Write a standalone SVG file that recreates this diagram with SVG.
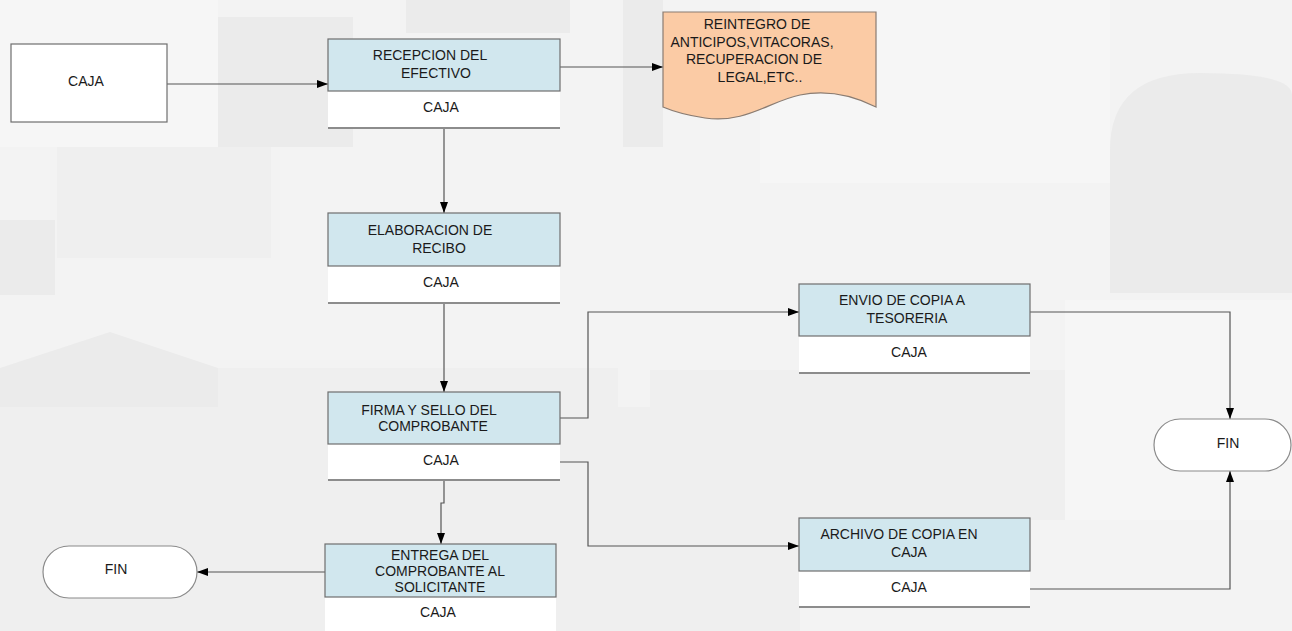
<svg xmlns="http://www.w3.org/2000/svg" width="1292" height="631" viewBox="0 0 1292 631">
  <defs>
    <marker id="arrow" markerUnits="userSpaceOnUse" markerWidth="11" markerHeight="8" refX="11" refY="4" orient="auto">
      <path d="M0,0 L11,4 L0,8 Z" fill="#000"/>
    </marker>
    <style>
      text { font-family: "Liberation Sans", Arial, sans-serif; font-size: 14px; fill: #1a1a1a; text-anchor: middle; }
      .head { fill: #d1e7ee; stroke: #6e6e6e; stroke-width: 1.2; }
      .lane { fill: #ffffff; }
      .rule { stroke: #8c8c8c; stroke-width: 2; }
      .plain { fill: #ffffff; stroke: #6e6e6e; stroke-width: 1.2; }
      .term { fill: #ffffff; stroke: #8a8a8a; stroke-width: 1.2; }
      .doc { fill: #fbcba5; stroke: #8a7c72; stroke-width: 1.2; }
      .conn { fill: none; stroke: #555; stroke-width: 1.2; }
      .bg1 { fill: #ebebeb; }
      .bg2 { fill: #efefef; }
      .bg3 { fill: #f6f6f6; }
    </style>
  </defs>

  <!-- backdrop -->
  <g id="backdrop">
    <rect x="0" y="0" width="1292" height="631" fill="#f3f3f3"/>
    <rect class="bg3" x="0" y="0" width="218" height="147"/>
    <rect class="bg1" x="218" y="17" width="135" height="130"/>
    <rect class="bg1" x="406" y="0" width="164" height="33"/>
    <rect class="bg1" x="623" y="0" width="40" height="147"/>
    <rect class="bg2" x="57" y="147" width="214" height="111"/>
    <rect class="bg1" x="0" y="220" width="55" height="75"/>
    <rect class="bg3" x="760" y="0" width="350" height="183"/>
    <path class="bg1" d="M1110,293 V150 Q1110,73 1200,73 Q1292,73 1292,95 V293 Z"/>
    <polygon class="bg1" points="0,368 110,332 218,368 218,407 0,407"/>
    <rect class="bg2" x="218" y="368" width="400" height="39"/>
    <rect class="bg2" x="0" y="407" width="800" height="224"/>
    <rect class="bg2" x="650" y="370" width="420" height="150"/>
    <rect class="bg3" x="1065" y="300" width="227" height="220"/>
  </g>

  <!-- connectors -->
  <g id="connectors">
    <path class="conn" d="M167,84 H328" marker-end="url(#arrow)"/>
    <path class="conn" d="M560,67 H663" marker-end="url(#arrow)"/>
    <path class="conn" d="M444,128 V213" marker-end="url(#arrow)"/>
    <path class="conn" d="M444,303 V392" marker-end="url(#arrow)"/>
    <path class="conn" d="M560,418 H588 V312 H799" marker-end="url(#arrow)"/>
    <path class="conn" d="M560,462 H588 V546 H799" marker-end="url(#arrow)"/>
    <path class="conn" d="M444,480 V503 H441 V544" marker-end="url(#arrow)"/>
    <path class="conn" d="M325,572 H197" marker-end="url(#arrow)"/>
    <path class="conn" d="M1030,312 H1230 V419" marker-end="url(#arrow)"/>
    <path class="conn" d="M1030,589 H1230 V471" marker-end="url(#arrow)"/>
  </g>

  <!-- start box -->
  <g id="caja-start">
    <rect class="plain" x="11" y="44" width="156" height="78"/>
    <text x="86" y="86">CAJA</text>
  </g>

  <!-- processes -->
  <g id="recepcion">
    <rect class="lane" x="328" y="91" width="232" height="37"/>
    <line class="rule" x1="328" y1="128" x2="560" y2="128"/>
    <rect class="head" x="328" y="39" width="232" height="52"/>
    <text x="430" y="60">RECEPCION DEL</text>
    <text x="436" y="78">EFECTIVO</text>
    <text x="441" y="112">CAJA</text>
  </g>

  <g id="reintegro">
    <path class="doc" d="M663,12 H876 V107 C850,94 825,90 800,95 C770,101 745,124 705,118 C685,115 670,110 663,107 Z"/>
    <text x="757" y="29">REINTEGRO DE</text>
    <text x="752" y="47">ANTICIPOS,VITACORAS,</text>
    <text x="754" y="64">RECUPERACION DE</text>
    <text x="760" y="82">LEGAL,ETC..</text>
  </g>

  <g id="elaboracion">
    <rect class="lane" x="328" y="266" width="232" height="37"/>
    <line class="rule" x1="328" y1="303" x2="560" y2="303"/>
    <rect class="head" x="328" y="213" width="232" height="53"/>
    <text x="430" y="235">ELABORACION DE</text>
    <text x="439" y="253">RECIBO</text>
    <text x="441" y="287">CAJA</text>
  </g>

  <g id="firma">
    <rect class="lane" x="328" y="444" width="232" height="36"/>
    <line class="rule" x1="328" y1="480" x2="560" y2="480"/>
    <rect class="head" x="328" y="392" width="232" height="52"/>
    <text x="429" y="415">FIRMA Y SELLO DEL</text>
    <text x="433" y="431">COMPROBANTE</text>
    <text x="441" y="465">CAJA</text>
  </g>

  <g id="entrega">
    <rect class="lane" x="325" y="597" width="231" height="34"/>
    <rect class="head" x="325" y="544" width="231" height="53"/>
    <text x="440" y="560">ENTREGA DEL</text>
    <text x="440" y="576">COMPROBANTE AL</text>
    <text x="440" y="592">SOLICITANTE</text>
    <text x="438" y="617">CAJA</text>
  </g>

  <g id="envio">
    <rect class="lane" x="799" y="336" width="231" height="37"/>
    <line class="rule" x1="799" y1="373" x2="1030" y2="373"/>
    <rect class="head" x="799" y="284" width="231" height="52"/>
    <text x="902" y="305">ENVIO DE COPIA A</text>
    <text x="907" y="323">TESORERIA</text>
    <text x="909" y="357">CAJA</text>
  </g>

  <g id="archivo">
    <rect class="lane" x="799" y="571" width="231" height="36"/>
    <line class="rule" x1="799" y1="607" x2="1030" y2="607"/>
    <rect class="head" x="799" y="518" width="231" height="53"/>
    <text x="899" y="539">ARCHIVO DE COPIA EN</text>
    <text x="909" y="557">CAJA</text>
    <text x="909" y="592">CAJA</text>
  </g>

  <!-- terminators -->
  <g id="fin-left">
    <rect class="term" x="43" y="546" width="154" height="52" rx="26" ry="26"/>
    <text x="116" y="574">FIN</text>
  </g>

  <g id="fin-right">
    <rect class="term" x="1154" y="419" width="137" height="52" rx="26" ry="26"/>
    <text x="1228" y="448">FIN</text>
  </g>
</svg>
